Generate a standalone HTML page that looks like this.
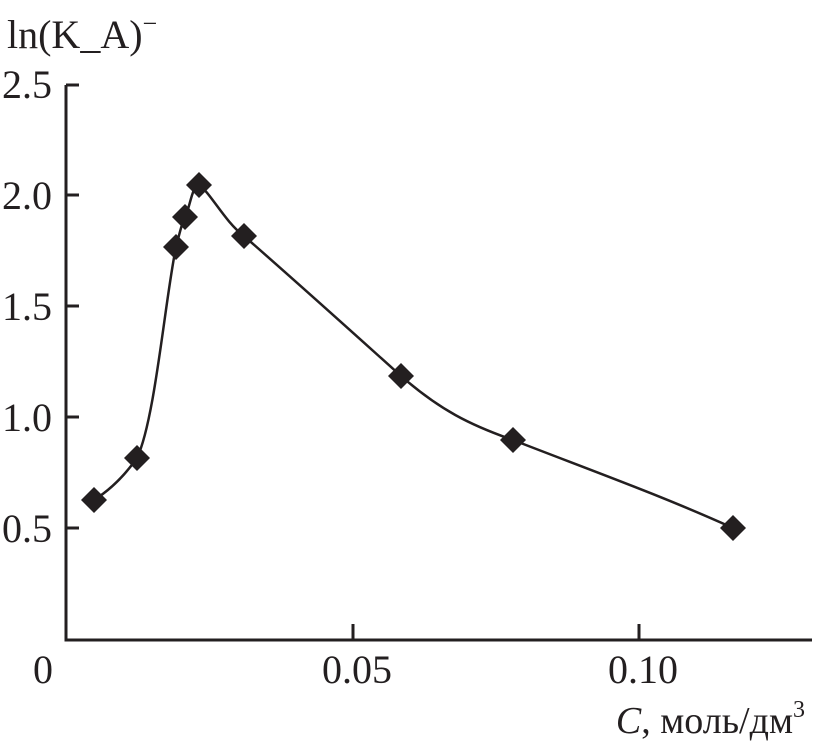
<!DOCTYPE html>
<html><head><meta charset="utf-8"><style>
html,body{margin:0;padding:0;background:#fff}
svg{display:block}
text{font-family:"Liberation Serif",serif;fill:#231f20}
</style></head><body>
<svg width="813" height="742" viewBox="0 0 813 742">
<g stroke="#231f20" stroke-width="3" fill="none">
<path d="M66,85 V640 H812"/>
<path d="M66,85 H79 M66,195 H79 M66,306 H79 M66,417 H79 M66,528 H79"/>
<path d="M353,640 V624 M639,640 V624"/>
<path stroke-width="2.5" d="M94,500 C110,490 125,475 137,458 C155,420 165,300 176,247 C180,232 182,222 185,217 C190,208 192,185 199,185 C210,192 225,222 244,236 C300,285 350,330 401,376 C440,410 470,425 513,440 C590,470 660,495 733,528"/>
</g>
<g fill="#231f20">
<path d="M94,487 l13,13 l-13,13 l-13,-13z"/>
<path d="M137,445 l13,13 l-13,13 l-13,-13z"/>
<path d="M176,234 l13,13 l-13,13 l-13,-13z"/>
<path d="M185,204 l13,13 l-13,13 l-13,-13z"/>
<path d="M199,172 l13,13 l-13,13 l-13,-13z"/>
<path d="M244,223 l13,13 l-13,13 l-13,-13z"/>
<path d="M401,363 l13,13 l-13,13 l-13,-13z"/>
<path d="M513,427 l13,13 l-13,13 l-13,-13z"/>
<path d="M733,515 l13,13 l-13,13 l-13,-13z"/>
</g>
<g font-size="40" text-anchor="end">
<text x="52" y="98">2.5</text>
<text x="52" y="209">2.0</text>
<text x="52" y="320">1.5</text>
<text x="52" y="431">1.0</text>
<text x="52" y="542">0.5</text>
</g>
<g font-size="40" text-anchor="middle">
<text x="43" y="683">0</text>
<text x="357" y="683">0.05</text>
<text x="643" y="683">0.10</text>
</g>
<text x="7" y="48" font-size="40">ln(K_A)<tspan font-size="26" dy="-16">−</tspan></text>
<text x="805" y="733" font-size="38" text-anchor="end"><tspan font-style="italic">C</tspan>, моль/дм<tspan font-size="24" dy="-16">3</tspan></text>
</svg>
</body></html>
